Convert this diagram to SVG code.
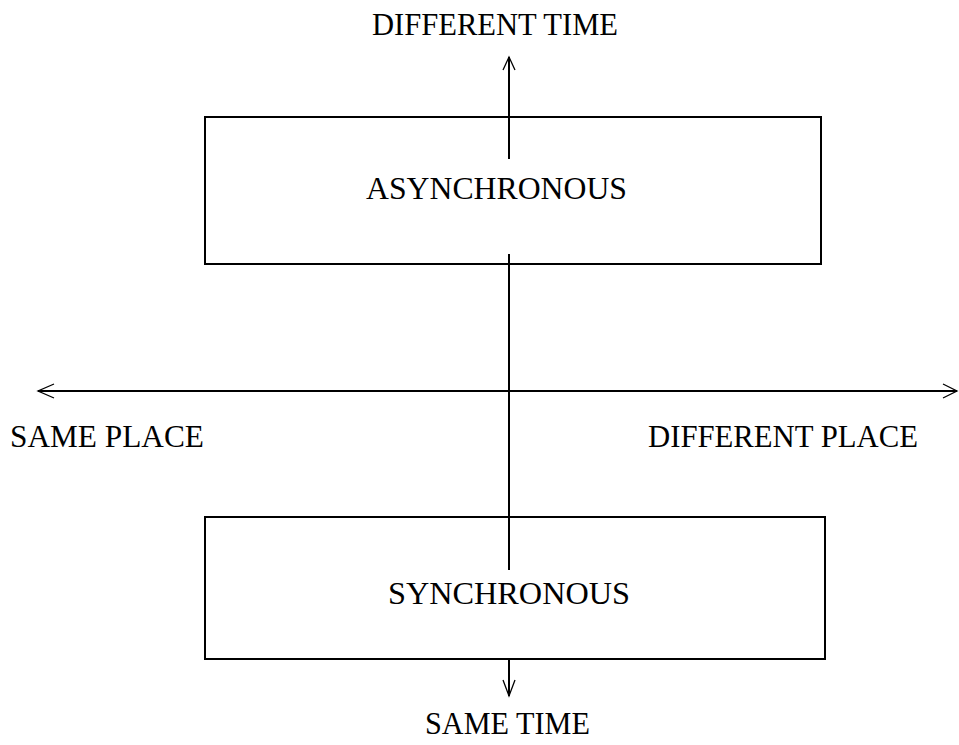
<svg xmlns="http://www.w3.org/2000/svg" width="959" height="745" viewBox="0 0 959 745">
  <style>
    .box { fill: #ffffff; stroke: #000000; stroke-width: 2; }
    .axis { fill: none; stroke: #000000; stroke-width: 2; }
    .head { fill: none; stroke: #000000; stroke-width: 1.3; }
    .lbl { font-family: "Liberation Serif", "Times New Roman", serif; font-size: 31px; fill: #000000; }
  </style>
  <rect width="959" height="745" fill="#ffffff"/>

  <g id="asynchronous">
    <rect class="box" x="205" y="117" width="616" height="147"/>
    <text class="lbl" x="366" y="199" textLength="261" lengthAdjust="spacingAndGlyphs">ASYNCHRONOUS</text>
  </g>

  <g id="synchronous">
    <rect class="box" x="205" y="517" width="620" height="142"/>
    <text class="lbl" x="388" y="604" textLength="242" lengthAdjust="spacingAndGlyphs">SYNCHRONOUS</text>
  </g>

  <g id="connectors">
    <!-- time axis, drawn in segments around the box labels -->
    <line class="axis" x1="509" y1="57" x2="509" y2="159"/>
    <line class="axis" x1="509" y1="254" x2="509" y2="570"/>
    <line class="axis" x1="509" y1="659" x2="509" y2="696"/>
    <!-- place axis -->
    <line class="axis" x1="38" y1="391" x2="957" y2="391"/>
    <!-- open arrowheads -->
    <path class="head" d="M503,70 L509,57 L515,70"/>
    <path class="head" d="M503,680 L509,696 L515,680"/>
    <path class="head" d="M54,384 L38,391 L54,398"/>
    <path class="head" d="M943,384 L957,391 L943,398"/>
  </g>

  <g id="axis-labels">
    <text class="lbl" x="372" y="35" textLength="246" lengthAdjust="spacingAndGlyphs">DIFFERENT TIME</text>
    <text class="lbl" x="425" y="734" textLength="165" lengthAdjust="spacingAndGlyphs">SAME TIME</text>
    <text class="lbl" x="10" y="447" textLength="194" lengthAdjust="spacingAndGlyphs">SAME PLACE</text>
    <text class="lbl" x="648" y="447" textLength="270" lengthAdjust="spacingAndGlyphs">DIFFERENT PLACE</text>
  </g>
</svg>
